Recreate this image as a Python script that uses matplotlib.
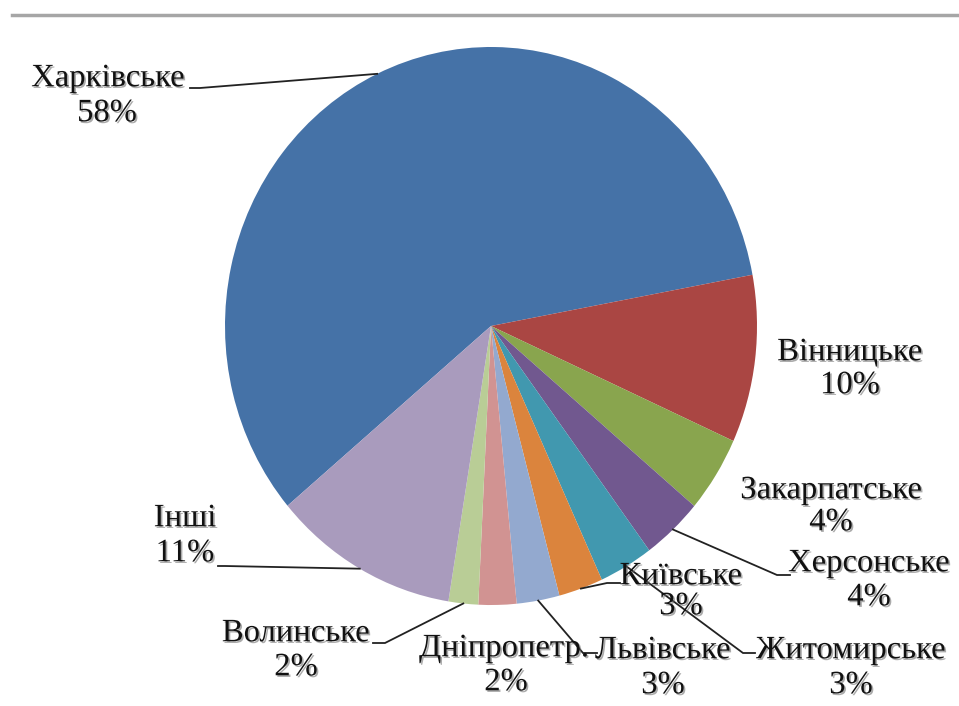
import numpy as np
import matplotlib
matplotlib.use("Agg")
import matplotlib.pyplot as plt
import matplotlib.patheffects as pe
from matplotlib.lines import Line2D

# ---- data ----
regions = ["Харківське", "Вінницьке", "Закарпатське", "Херсонське", "Житомирське",
           "Київське", "Львівське", "Дніпропетр.", "Волинське", "Інші"]
shares = [58.2, 9.7, 4.4, 3.7, 3.3, 2.7, 2.6, 2.3, 1.8, 11.3]
colors = ["#4572A7", "#AA4643", "#89A54E", "#71588F", "#4198AF",
          "#DB843D", "#93A9CF", "#D19392", "#B9CD96", "#A99BBD"]

# ---- layout (pixel positions of label blocks: name centre, pct centre) ----
W, H = 959, 706
cx, cy, rx, ry = 491, 326, 266, 279
label_pos = {
    "Харківське": ((108, 78), (107, 113)),
    "Вінницьке": ((850, 352), (850, 385)),
    "Закарпатське": ((831, 490), (831, 522)),
    "Херсонське": ((869, 563), (869, 597)),
    "Житомирське": ((851, 650), (851, 685)),
    "Київське": ((681, 576), (681, 606)),
    "Львівське": ((663, 650), (663, 685)),
    "Дніпропетр.": ((504, 648), (506, 682)),
    "Волинське": ((296, 633), (296, 667)),
    "Інші": ((185, 518), (185, 553)),
}
# leader lines: elbow point and end point (pixels)
leaders = {
    "Харківське": ((200, 88), (190, 88)),
    "Херсонське": ((777, 575), (790, 575)),
    "Київське": ((607, 583), (620, 583)),
    "Житомирське": ((743, 653), (755, 653)),
    "Львівське": ((583, 653), (597, 653)),
    "Волинське": ((385, 643), (373, 643)),
    "Інші": ((225, 566), (218, 566)),
}

def px2d(p):
    x, y = p
    return ((x - cx) / rx, (cy - y) / ry)

fig = plt.figure(figsize=(W / 100, H / 100), dpi=100)
ax = fig.add_axes([0, 0, 1, 1])
wedges, _ = ax.pie(shares, colors=colors, startangle=220.1, counterclock=False,
                   radius=1, center=(0, 0),
                   wedgeprops=dict(linewidth=0))
ax.set_aspect("auto")
ax.set_xlim(-cx / rx, (W - cx) / rx)
ax.set_ylim(-(H - cy) / ry, cy / ry)
ax.axis("off")

font = dict(family="Liberation Serif", fontsize=23.5, color="#111111",
            ha="center", va="center")
shadow = [pe.SimplePatchShadow(offset=(1.2, -1.2), shadow_rgbFace="#666666", alpha=0.55),
          pe.Normal()]

for w, name, val in zip(wedges, regions, shares):
    (nx, ny), (px_, py_) = label_pos[name]
    t1 = ax.text(*px2d((nx, ny)), name, **font)
    t2 = ax.text(*px2d((px_, py_)), f"{round(val):d}%", **font)
    t1.set_path_effects(shadow)
    t2.set_path_effects(shadow)
    if name in leaders:
        mid = np.deg2rad((w.theta1 + w.theta2) / 2)
        sx, sy = np.cos(mid), np.sin(mid)
        (ex, ey), (fx, fy) = leaders[name]
        e = px2d((ex, ey))
        f = px2d((fx, fy))
        ax.plot([sx, e[0], f[0]], [sy, e[1], f[1]], color="#222222", lw=1.3,
                solid_joinstyle="miter", zorder=1)

# top border line
fig.add_artist(Line2D([12 / W, 1], [1 - 15 / H, 1 - 15 / H], color="#a6a6a6", lw=2.5))

fig.savefig("out.png", dpi=100)
